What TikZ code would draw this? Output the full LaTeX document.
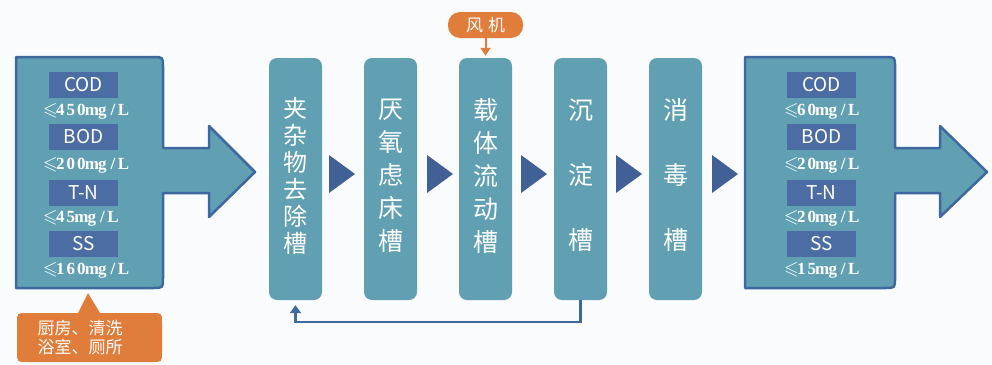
\documentclass[tikz,border=0pt]{standalone}
\usepackage{fontspec}
\usepackage{amssymb}
\usepackage{graphicx}
\newfontfamily\cjk{Noto Sans CJK SC}
\newfontfamily\valfont{Liberation Serif}
\usetikzlibrary{arrows.meta}
\definecolor{bgc}{RGB}{250,251,252}
\definecolor{tealfill}{RGB}{96,160,178}
\definecolor{borderblue}{RGB}{62,104,160}
\definecolor{labelblue}{RGB}{76,108,164}
\definecolor{triblue}{RGB}{64,96,150}
\definecolor{orangec}{RGB}{224,125,58}
\newcommand\mc[1]{\makebox[10.5pt][c]{#1}}
\newcommand\vle{\makebox[12pt][l]{\scalebox{1.1}{$\leqslant$}}}
\tikzset{
  bigarrow/.style={fill=tealfill, draw=borderblue, line width=2.5pt, line join=round},
  tank/.style={fill=tealfill, rounded corners=8pt, minimum width=53pt, minimum height=242pt, inner sep=0pt},
  tanktext/.style={text=white, align=center, inner sep=0pt},
  tag/.style={fill=labelblue, text=white, minimum width=69pt, minimum height=26pt, inner sep=0pt, font=\cjk\fontsize{19}{20}\selectfont},
  val/.style={text=white, inner sep=0pt, font=\valfont\bfseries\fontsize{17}{20}\selectfont},
  tri/.style={fill=triblue},
  fb/.style={draw=borderblue, line width=2.2pt, -{Triangle[width=11pt,length=8pt]}},
}
\begin{document}
\begin{tikzpicture}[x=1pt,y=-1pt]
\useasboundingbox (0,0) rectangle (992,364);
\fill[bgc] (0,0) rectangle (992,364);
\begin{scope}
\clip (0,0) rectangle (992,364);
% left big arrow
\draw[bigarrow] (16,57) -- (153,57) .. controls (163,57) .. (163,67) -- (163,148) -- (209,148) -- (209,126) -- (255,172) -- (209,217) -- (209,193) -- (163,193) -- (163,278) .. controls (163,288) .. (153,288) -- (16,288) -- cycle;
% right big arrow
\draw[bigarrow] (745,57) -- (885,57) .. controls (895,57) .. (895,67) -- (895,148) -- (940,148) -- (940,126) -- (987,172) -- (940,217) -- (940,193) -- (895,193) -- (895,278) .. controls (895,288) .. (885,288) -- (745,288) -- cycle;
% left tags
\node[tag] (lcod) at (83.5,85) {COD};
\node[val, anchor=west] (lcodv) at (43,111) {\vle\mc{4}\mc{5}\mc{0}\mc{m}\mc{g}\mc{/}\mc{L}};
\node[tag] (lbod) at (83.5,136.5) {BOD};
\node[val, anchor=west] (lbodv) at (43,165) {\vle\mc{2}\mc{0}\mc{0}\mc{m}\mc{g}\mc{/}\mc{L}};
\node[tag] (ltn) at (83.5,192.5) {T-N};
\node[val, anchor=west] (ltnv) at (43,218) {\vle\mc{4}\mc{5}\mc{m}\mc{g}\mc{/}\mc{L}};
\node[tag] (lss) at (83.5,244) {SS};
\node[val, anchor=west] (lssv) at (43,270) {\vle\mc{1}\mc{6}\mc{0}\mc{m}\mc{g}\mc{/}\mc{L}};
% right tags
\node[tag] (rcod) at (821.5,85) {COD};
\node[val] (rcodv) at (821.5,111) {\vle\mc{6}\mc{0}\mc{m}\mc{g}\mc{/}\mc{L}};
\node[tag] (rbod) at (821.5,136.5) {BOD};
\node[val] (rbodv) at (821.5,165) {\vle\mc{2}\mc{0}\mc{m}\mc{g}\mc{/}\mc{L}};
\node[tag] (rtn) at (821.5,192.5) {T-N};
\node[val] (rtnv) at (821.5,218) {\vle\mc{2}\mc{0}\mc{m}\mc{g}\mc{/}\mc{L}};
\node[tag] (rss) at (821.5,244) {SS};
\node[val] (rssv) at (821.5,270) {\vle\mc{1}\mc{5}\mc{m}\mc{g}\mc{/}\mc{L}};
% tanks
\node[tank] (b1) at (295.5,179) {};
\node[tank] (b2) at (390.5,179) {};
\node[tank] (b3) at (485.5,179) {};
\node[tank] (b4) at (580.5,179) {};
\node[tank] (b5) at (675.5,179) {};
\node[tanktext, font=\cjk\fontsize{24}{27}\selectfont] (t1) at (295.5,176) {夹\\杂\\物\\去\\除\\槽};
\node[tanktext, font=\cjk\fontsize{25}{33}\selectfont] (t2) at (390.5,176) {厌\\氧\\虑\\床\\槽};
\node[tanktext, font=\cjk\fontsize{25}{33}\selectfont] (t3) at (485.5,176) {载\\体\\流\\动\\槽};
\node[tanktext, font=\cjk\fontsize{25}{65}\selectfont] (t4) at (580.5,175) {沉\\淀\\槽};
\node[tanktext, font=\cjk\fontsize{25}{65}\selectfont] (t5) at (675.5,175) {消\\毒\\槽};
% triangles
\fill[tri] (329,155) -- (355,174) -- (329,193) -- cycle;
\fill[tri] (427,155) -- (453,174) -- (427,193) -- cycle;
\fill[tri] (521,155) -- (547,174) -- (521,193) -- cycle;
\fill[tri] (616,155) -- (642,174) -- (616,193) -- cycle;
\fill[tri] (712,155) -- (738,174) -- (712,193) -- cycle;
% fan
\node[fill=orangec, rounded corners=12pt, minimum width=75pt, minimum height=26pt, inner sep=0pt, text=white, font=\cjk\fontsize{17}{18}\selectfont] (fan) at (485.5,25) {风\hspace{5pt}机};
\draw[orangec, line width=2pt, -{Triangle[width=10pt,length=8pt]}, shorten >=2pt] (fan.south) -- (b3.north);
% feedback
\draw[fb, shorten >=5pt] (b4.south) -- ++(0,22) -| (b1.south);
% source callout
\fill[orangec] (27,313) -- (78,313) -- (88,293) -- (100,313) -- (152,313) .. controls (162,313) .. (162,323) -- (162,352) .. controls (162,362) .. (152,362) -- (27,362) .. controls (17,362) .. (17,352) -- (17,323) .. controls (17,313) .. (27,313) -- cycle;
\node[text=white, align=left, inner sep=0pt, font=\cjk\fontsize{17}{19}\selectfont] (src) at (80,337.5) {厨房、清洗\\浴室、厕所};
\end{scope}
\end{tikzpicture}
\end{document}
